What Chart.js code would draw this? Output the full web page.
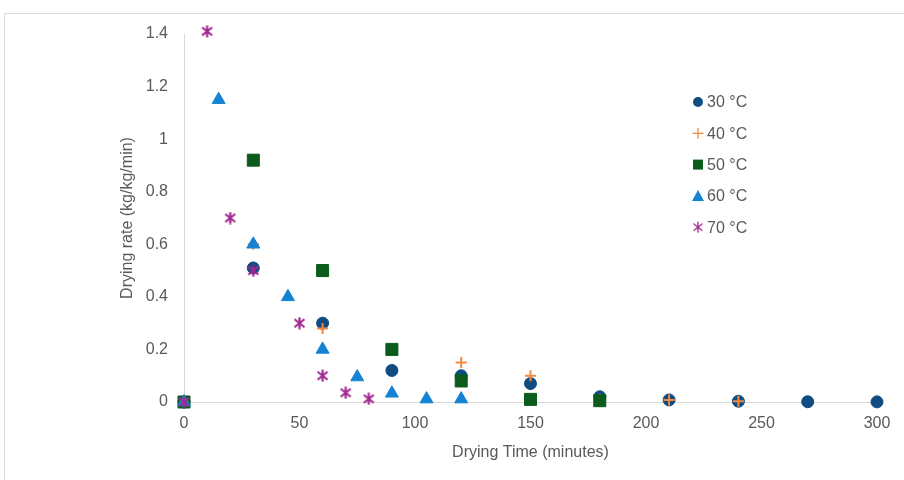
<!DOCTYPE html>
<html><head><meta charset="utf-8">
<script src="https://cdn.jsdelivr.net/npm/chart.js@4/dist/chart.umd.min.js"></script>
<style>
html,body{margin:0;padding:0;background:#fff;overflow:hidden;width:904px;height:480px;}
#frame{position:absolute;left:4px;top:13px;width:1000px;height:1000px;border:1px solid #d9d9d9;}
#wrap{position:absolute;left:0;top:0;width:904px;height:480px;}
</style></head>
<body>
<div id="frame"></div>
<div id="wrap"><canvas id="c" width="904" height="480"></canvas></div>
<script>
const seriesLabels = ['30 °C', '40 °C', '50 °C', '60 °C', '70 °C'];
const t30 = [0, 30, 60, 90, 120, 150, 180, 210, 240, 270, 300];
const r30 = [0, 0.51, 0.30, 0.12, 0.10, 0.07, 0.02, 0.008, 0.003, 0.001, 0.0005];
const t40 = [0, 30, 60, 90, 120, 150, 180, 210, 240];
const r40 = [0, 0.60, 0.28, 0.20, 0.15, 0.10, 0.01, 0.008, 0.003];
const t50 = [0, 30, 60, 90, 120, 150, 180];
const r50 = [0, 0.92, 0.50, 0.20, 0.08, 0.01, 0.005];
const t60 = [0, 15, 30, 45, 60, 75, 90, 105, 120];
const r60 = [0, 1.15, 0.60, 0.40, 0.20, 0.095, 0.033, 0.011, 0.011];
const t70 = [0, 10, 20, 30, 50, 60, 70, 80];
const r70 = [0, 1.41, 0.70, 0.50, 0.30, 0.10, 0.035, 0.012];
const xTicks = [0, 50, 100, 150, 200, 250, 300];
const yTicks = [0, 0.2, 0.4, 0.6, 0.8, 1, 1.2, 1.4];

const colors = ['#0f4c81', '#f5893f', '#0b5c1c', '#1583d3', '#a1288f'];

function asterisk(size, color, lw) {
  const c = document.createElement('canvas');
  c.width = size; c.height = size;
  const g = c.getContext('2d');
  g.strokeStyle = color; g.lineWidth = lw; g.lineCap = 'butt';
  const m = 1.5, s = size - 1.5;
  g.beginPath();
  g.moveTo(m, m + 1); g.lineTo(s, s - 1);
  g.moveTo(s, m + 1); g.lineTo(m, s - 1);
  g.moveTo(size / 2, 0.5); g.lineTo(size / 2, size - 0.5);
  g.stroke();
  return c;
}
const astMark = asterisk(13, colors[4], 2.2);
const astLegend = asterisk(12, colors[4], 1.3);

function pts(xs, ys) { return xs.map((x, i) => ({x: x, y: ys[i]})); }

const styles = [
  {pointStyle: 'circle', pointRadius: 6},
  {pointStyle: 'cross', pointRadius: 5.5, pointBorderWidth: 2},
  {pointStyle: 'rect', pointRadius: 8.5},
  {pointStyle: 'triangle', pointRadius: 7.5},
  {pointStyle: astMark, pointRadius: 6}
];
const datasets = [pts(t30, r30), pts(t40, r40), pts(t50, r50), pts(t60, r60), pts(t70, r70)].map((d, i) => Object.assign({
  label: seriesLabels[i],
  data: d,
  backgroundColor: colors[i],
  borderColor: colors[i],
  pointBorderWidth: 1,
  showLine: false,
  clip: false,
  order: 5 - i
}, styles[i]));

const FONT = '"Liberation Sans", Arial, sans-serif';
const TXT = '#595959';

const legendPlugin = {
  id: 'innerLegend',
  afterDraw(chart) {
    const ctx = chart.ctx;
    ctx.save();
    ctx.font = '16px ' + FONT;
    ctx.fillStyle = TXT;
    ctx.textBaseline = 'middle';
    const x0 = 698, y0 = 102, dy = 31.3;
    chart.data.datasets.forEach((ds, i) => {
      const y = y0 + i * dy;
      ctx.fillStyle = ds.backgroundColor;
      ctx.strokeStyle = ds.borderColor;
      const st = ds.pointStyle;
      if (st === 'circle') { ctx.beginPath(); ctx.arc(x0, y, 5, 0, Math.PI * 2); ctx.fill(); }
      else if (st === 'cross') { ctx.lineWidth = 1.3; ctx.beginPath(); ctx.moveTo(x0 - 5.5, y); ctx.lineTo(x0 + 5.5, y); ctx.moveTo(x0, y - 5.5); ctx.lineTo(x0, y + 5.5); ctx.stroke(); }
      else if (st === 'rect') { ctx.fillRect(x0 - 5, y - 5, 10, 10); }
      else if (st === 'triangle') { ctx.beginPath(); ctx.moveTo(x0, y - 6); ctx.lineTo(x0 + 6, y + 5); ctx.lineTo(x0 - 6, y + 5); ctx.closePath(); ctx.fill(); }
      else { ctx.drawImage(astLegend, x0 - 6, y - 6); }
      ctx.fillStyle = TXT;
      ctx.fillText(ds.label, x0 + 9, y + 1);
    });
    ctx.restore();
  }
};

new Chart(document.getElementById('c'), {
  type: 'scatter',
  data: {datasets: datasets},
  plugins: [legendPlugin],
  options: {
    responsive: false,
    animation: false,
    layout: {padding: {left: 0, top: 34, right: 27, bottom: 0}},
    plugins: {legend: {display: false}, tooltip: {enabled: false}},
    scales: {
      x: {
        type: 'linear', min: 0, max: 300,
        afterFit(s) { s.height = 78; },
        afterBuildTicks(s) { s.ticks = xTicks.map(v => ({value: v})); },
        grid: {display: false, drawTicks: false},
        border: {display: true, color: '#d9d9d9', width: 1},
        ticks: {color: TXT, font: {family: FONT, size: 16}, padding: 12, maxRotation: 0},
        title: {display: true, text: 'Drying Time (minutes)', color: TXT, font: {family: FONT, size: 16}, padding: {top: 0, bottom: 18}}
      },
      y: {
        type: 'linear', min: 0, max: 1.4,
        afterFit(s) { s.width = 184; },
        afterBuildTicks(s) { s.ticks = yTicks.map(v => ({value: v})); },
        grid: {display: false, drawTicks: false},
        border: {display: true, color: '#d9d9d9', width: 1},
        ticks: {color: TXT, font: {family: FONT, size: 16}, padding: 16, callback: v => String(Math.round(v * 10) / 10)},
        title: {display: true, text: 'Drying rate (kg/kg/min)', color: TXT, font: {family: FONT, size: 16}, padding: {top: 118, bottom: 0}}
      }
    }
  }
});
</script>
</body></html>
